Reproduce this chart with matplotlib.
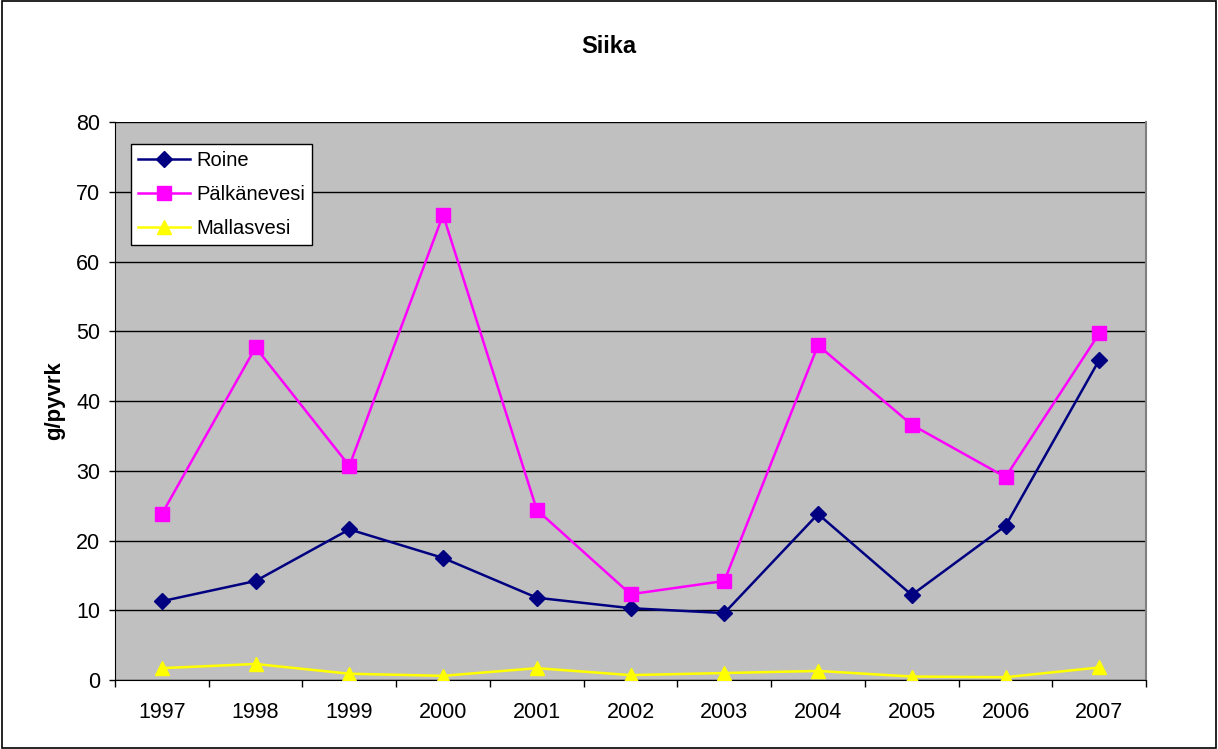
import matplotlib
matplotlib.use('Agg')
import matplotlib.pyplot as plt
import numpy as np
from matplotlib.patches import Rectangle

plt.rcParams['font.family'] = ['Liberation Sans', 'DejaVu Sans']

years = ['1997', '1998', '1999', '2000', '2001', '2002', '2003', '2004', '2005', '2006', '2007']
roine = [11.3, 14.2, 21.6, 17.5, 11.8, 10.3, 9.6, 23.8, 12.2, 22.1, 45.9]
palkanevesi = [23.8, 47.7, 30.7, 66.7, 24.4, 12.3, 14.2, 48.0, 36.6, 29.1, 49.7]
mallasvesi = [1.7, 2.3, 0.9, 0.6, 1.7, 0.7, 1.0, 1.3, 0.5, 0.4, 1.8]

fig = plt.figure(figsize=(12.18, 7.49), dpi=100)
fig.patches.append(Rectangle((0.002, 0.002), 0.996, 0.996, transform=fig.transFigure,
                             fill=False, edgecolor='black', linewidth=1.2))
ax = fig.add_axes([0.0944, 0.0921, 0.8466, 0.7449])
ax.set_facecolor('#C0C0C0')

x = np.arange(len(years))
ax.plot(x, roine, color='#000080', marker='D', markersize=8, linewidth=1.8, label='Roine', zorder=3)
ax.plot(x, palkanevesi, color='#FF00FF', marker='s', markersize=10, linewidth=1.8, label='Pälkänevesi', zorder=3)
ax.plot(x, mallasvesi, color='#FFFF00', marker='^', markersize=10, linewidth=1.8, label='Mallasvesi', zorder=3)

ax.set_xlim(-0.5, len(years) - 0.5)
ax.set_ylim(0, 80)
ax.set_yticks(range(0, 81, 10))
ax.yaxis.grid(True, color='black', linewidth=1)
ax.set_axisbelow(True)

ax.set_xticks(x)
ax.set_xticklabels(years)
ax.set_xticks(np.arange(-0.5, len(years)), minor=True)
ax.tick_params(axis='x', which='major', length=0, labelsize=15.5, pad=16)
ax.tick_params(axis='x', which='minor', length=5, direction='out', width=1)
ax.tick_params(axis='y', length=4.5, direction='out', labelsize=15.5, width=1, pad=6)

ax.spines['top'].set_visible(False)
ax.spines['right'].set_color('#808080')
ax.spines['right'].set_linewidth(1.5)
ax.spines['left'].set_color('black')
ax.spines['bottom'].set_color('black')

ax.set_ylabel('g/pyvrk', fontsize=16, fontweight='bold', labelpad=8)
fig.text(0.5, 0.938, 'Siika', ha='center', va='center', fontsize=17, fontweight='bold')

leg = ax.legend(loc='upper left', bbox_to_anchor=(131 / 1218, 1 - 144 / 749),
                bbox_transform=fig.transFigure, borderaxespad=0, fontsize=14.5,
                frameon=True, fancybox=False, edgecolor='black', framealpha=1,
                borderpad=0.35, handlelength=2.6, handletextpad=0.3, labelspacing=0.75)
leg.get_frame().set_linewidth(1)

fig.savefig('out.png', dpi=100)
